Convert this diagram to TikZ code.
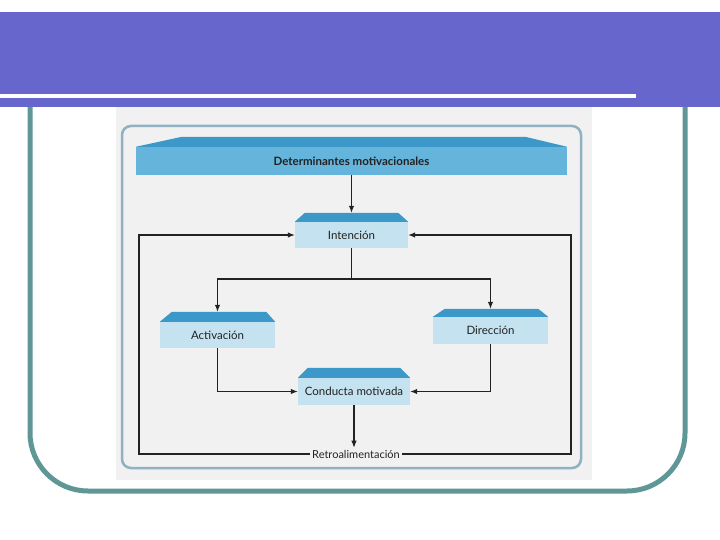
\documentclass[tikz,border=0pt]{standalone}
\usepackage{fontspec}
\setmainfont{Lato}
\usepackage{tikz}
\usetikzlibrary{arrows.meta}

\definecolor{slidebar}{HTML}{6666CC}
\definecolor{slideframe}{HTML}{5F9696}
\definecolor{scanbg}{HTML}{F1F1F1}
\definecolor{scanrim}{HTML}{8FB1C2}
\definecolor{headfront}{HTML}{64B4DC}
\definecolor{boxfront}{HTML}{C4E2EF}
\definecolor{boxtop}{HTML}{3C98C8}
\definecolor{ink}{HTML}{222222}

\begin{document}
\begin{tikzpicture}[
  x=1pt, y=-1pt,
  box/.style={fill=boxfront, inner sep=0pt, text=ink, font=\fontsize{11.5}{13}\selectfont},
  top/.style={fill=boxtop},
  arr/.style={draw=ink, line width=1.1pt, -{Latex[length=7pt,width=5.5pt]}},
  lnk/.style={draw=ink, line width=1.1pt}
]
  \useasboundingbox (0,0) rectangle (720,540);

  % slide
  \draw[slideframe, line width=5pt, rounded corners=58pt] (30,100) -- (30,491) -- (685,491) -- (685,100);
  \fill[scanbg] (116,105) rectangle (592,480);
  \draw[scanrim, line width=2.5pt, rounded corners=9pt] (122,126) rectangle (581,468);
  \fill[slidebar] (0,12) rectangle (720,107);
  \fill[white] (0,94) rectangle (636,98);

  % boxes
  \node[box, fill=headfront, minimum width=431pt, minimum height=28pt,
        font=\fontsize{11.5}{13}\selectfont\bfseries] (det) at (351.5,161) {Determinantes motivacionales};
  \fill[top] (det.north west) -- ([xshift=46pt,yshift=10pt]det.north west)
    -- ([xshift=-42pt,yshift=10pt]det.north east) -- (det.north east) -- cycle;

  \node[box, minimum width=113pt, minimum height=26pt] (int) at (351.5,235) {Intención};
  \fill[top] (int.north west) -- ([xshift=10pt,yshift=9pt]int.north west)
    -- ([xshift=-10pt,yshift=9pt]int.north east) -- (int.north east) -- cycle;

  \node[box, minimum width=115pt, minimum height=26pt] (act) at (217.5,335) {Activación};
  \fill[top] (act.north west) -- ([xshift=12pt,yshift=10pt]act.north west)
    -- ([xshift=-9pt,yshift=10pt]act.north east) -- (act.north east) -- cycle;

  \node[box, minimum width=115pt, minimum height=27pt] (dir) at (490.5,330.5) {Dirección};
  \fill[top] (dir.north west) -- ([xshift=12pt,yshift=8pt]dir.north west)
    -- ([xshift=-10pt,yshift=8pt]dir.north east) -- (dir.north east) -- cycle;

  \node[box, minimum width=112pt, minimum height=27pt] (con) at (354,391.5) {Conducta motivada};
  \fill[top] (con.north west) -- ([xshift=10pt,yshift=10pt]con.north west)
    -- ([xshift=-10pt,yshift=10pt]con.north east) -- (con.north east) -- cycle;

  \node[fill=scanbg, inner sep=2pt, text=ink, font=\fontsize{11}{13}\selectfont] (ret) at (356,454) {Retroalimentación};

  % connectors
  \coordinate (split) at (351.5,279);
  \coordinate (fbl) at (139,0);
  \coordinate (fbr) at (571,0);

  \draw[arr] (det.south) -- ([yshift=9pt]int.north);
  \draw[lnk] (int.south) -- (split);
  \draw[arr] (split) -| ([yshift=10pt]act.north);
  \draw[arr] (split) -| ([yshift=8pt]dir.north);
  \draw[arr] (act.south) |- (con.west);
  \draw[arr] (dir.south) |- (con.east);
  \draw[arr] (con.south) -- (con.south |- ret.north);
  \draw[arr] (ret.west) -| (fbl |- int.west) -- (int.west);
  \draw[arr] (ret.east) -| (fbr |- int.east) -- (int.east);
\end{tikzpicture}
\end{document}
